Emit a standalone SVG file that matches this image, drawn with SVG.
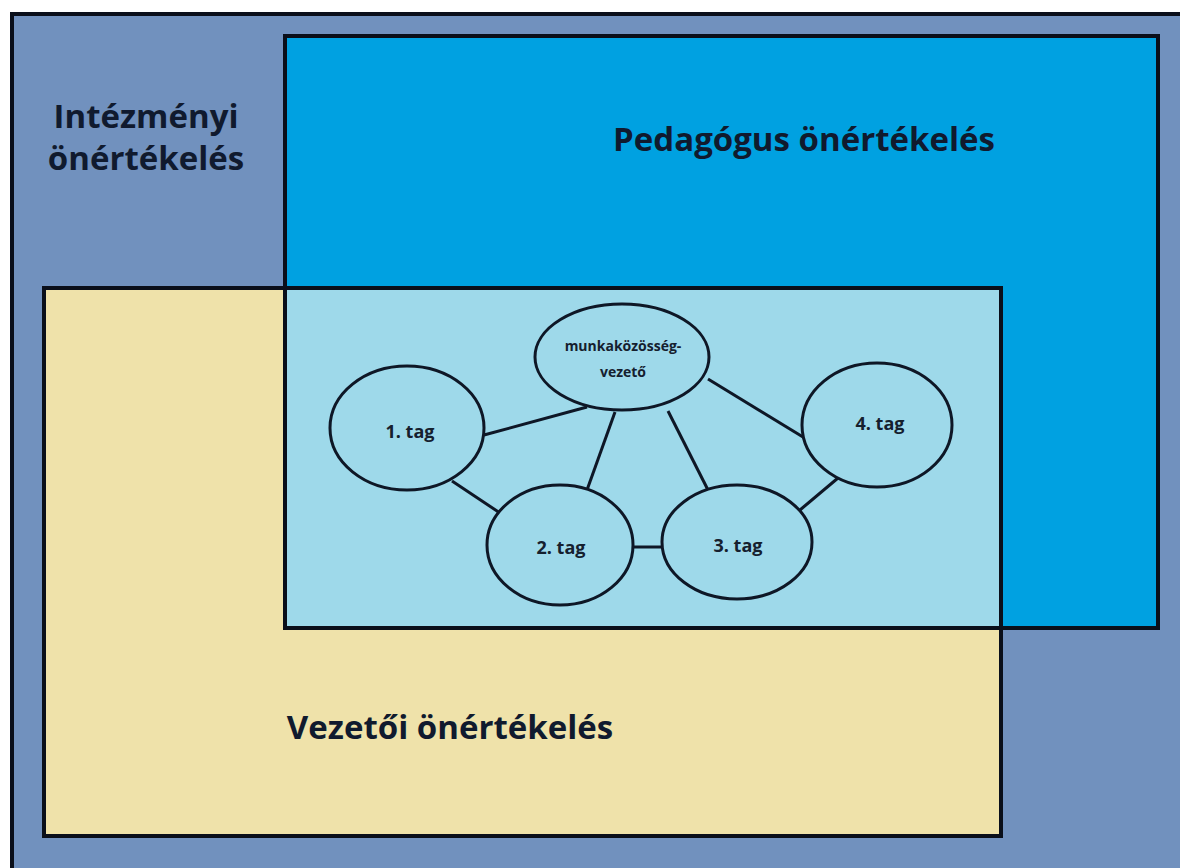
<svg xmlns="http://www.w3.org/2000/svg" width="1180" height="868" viewBox="0 0 1180 868">
<style>
.box{stroke:#0a0f1a;stroke-width:4;}
.nofill{fill:none;stroke:#0a0f1a;stroke-width:4;}
.big{font-family:"Open Sans","Noto Sans",sans-serif;font-weight:bold;font-size:33px;fill:#101a2e;}
.node ellipse{fill:#9ed9ea;stroke:#0e1726;stroke-width:3;}
.node text{font-family:"Open Sans","Noto Sans",sans-serif;font-weight:bold;font-size:18px;fill:#15202e;text-anchor:middle;}
.node text.small{font-size:14px;}
.conn line{stroke:#0e1726;stroke-width:3;}
</style>
<rect x="0" y="0" width="1180" height="868" fill="#ffffff"/>
<g id="intezmenyi">
<rect x="12" y="14" width="1180" height="870" fill="#7191be" class="box"/>
<text class="big" x="146" y="128" text-anchor="middle">Intézményi</text>
<text class="big" x="146" y="170" text-anchor="middle">önértékelés</text>
</g>
<g id="pedagogus">
<rect x="285" y="36" width="873" height="592" fill="#00a1e1"/>
<text class="big" x="804" y="151" text-anchor="middle">Pedagógus önértékelés</text>
</g>
<g id="vezetoi">
<rect x="44" y="288" width="957" height="548" fill="#efe2aa"/>
<text class="big" x="450" y="739" text-anchor="middle">Vezetői önértékelés</text>
</g>
<rect x="285" y="288" width="716" height="340" fill="#9ed9ea"/>
<rect x="285" y="36" width="873" height="592" class="nofill"/>
<rect x="44" y="288" width="957" height="548" class="nofill"/>
<g id="connectors" class="conn">
<line x1="484" y1="435" x2="587" y2="407"/>
<line x1="615" y1="412" x2="587" y2="490"/>
<line x1="668" y1="411" x2="708" y2="490"/>
<line x1="708" y1="379" x2="803" y2="437"/>
<line x1="452" y1="481" x2="500" y2="513"/>
<line x1="633" y1="547" x2="663" y2="547"/>
<line x1="800" y1="510" x2="838" y2="478"/>
</g>
<g id="vezeto" class="node">
<ellipse cx="622" cy="357" rx="87" ry="53"/>
<text class="small" x="623" y="351">munkaközösség-</text>
<text class="small" x="623" y="377">vezető</text>
</g>
<g id="tag1" class="node">
<ellipse cx="407" cy="428" rx="77" ry="62"/>
<text x="410" y="438">1. tag</text>
</g>
<g id="tag2" class="node">
<ellipse cx="560" cy="545" rx="73" ry="60"/>
<text x="561" y="554">2. tag</text>
</g>
<g id="tag3" class="node">
<ellipse cx="737" cy="542" rx="75" ry="57"/>
<text x="738" y="552">3. tag</text>
</g>
<g id="tag4" class="node">
<ellipse cx="877" cy="425" rx="75" ry="62"/>
<text x="880" y="430">4. tag</text>
</g>
</svg>
